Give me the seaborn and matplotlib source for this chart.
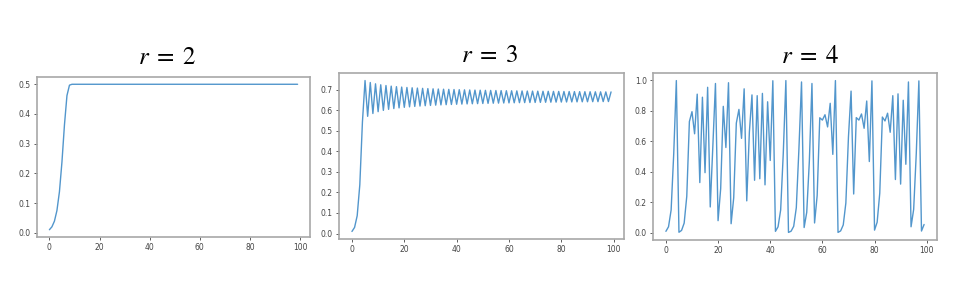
import numpy as np
import pandas as pd
import matplotlib
matplotlib.use("Agg")
import matplotlib.pyplot as plt
import seaborn as sns

# ---- data ----
steps = list(range(100))

r2_values = [0.01, 0.0198, 0.0388, 0.0746, 0.138, 0.238, 0.363, 0.462, 0.497, 0.5] + [0.5] * 90

r3_values = [
    0.01, 0.0297, 0.0865, 0.2369, 0.5424, 0.7446, 0.5705, 0.7351, 0.5842, 0.7287,
    0.5931, 0.7240, 0.5994, 0.7203, 0.6044, 0.7174, 0.6082, 0.7149, 0.6115, 0.7128,
    0.6142, 0.7109, 0.6165, 0.7093, 0.6186, 0.7079, 0.6204, 0.7066, 0.6220, 0.7054,
    0.6235, 0.7043, 0.6248, 0.7033, 0.6260, 0.7024, 0.6271, 0.7016, 0.6281, 0.7008,
    0.6291, 0.7001, 0.6299, 0.6994, 0.6308, 0.6987, 0.6315, 0.6981, 0.6322, 0.6976,
    0.6329, 0.6970, 0.6336, 0.6965, 0.6342, 0.6960, 0.6347, 0.6956, 0.6353, 0.6951,
    0.6358, 0.6947, 0.6363, 0.6943, 0.6368, 0.6939, 0.6372, 0.6935, 0.6376, 0.6932,
    0.6380, 0.6929, 0.6384, 0.6925, 0.6388, 0.6922, 0.6392, 0.6919, 0.6395, 0.6916,
    0.6399, 0.6913, 0.6402, 0.6911, 0.6405, 0.6908, 0.6408, 0.6905, 0.6411, 0.6903,
    0.6414, 0.6901, 0.6417, 0.6898, 0.6419, 0.6896, 0.6422, 0.6894, 0.6424, 0.6892,
]

r4_values = [
    0.01, 0.04, 0.15, 0.52, 0.999, 0.004, 0.016, 0.064, 0.24, 0.73,
    0.795, 0.65, 0.91, 0.33, 0.89, 0.395, 0.955, 0.17, 0.57, 0.98,
    0.08, 0.29, 0.83, 0.56, 0.985, 0.06, 0.23, 0.72, 0.81, 0.62,
    0.945, 0.21, 0.66, 0.905, 0.345, 0.90, 0.355, 0.915, 0.315, 0.86,
    0.475, 0.998, 0.01, 0.04, 0.15, 0.52, 0.999, 0.003, 0.011, 0.043,
    0.165, 0.55, 0.99, 0.035, 0.135, 0.47, 0.98, 0.065, 0.245, 0.755,
    0.74, 0.775, 0.695, 0.85, 0.515, 0.999, 0.003, 0.013, 0.052, 0.196,
    0.63, 0.93, 0.255, 0.756, 0.74, 0.78, 0.686, 0.865, 0.468, 0.997,
    0.018, 0.07, 0.26, 0.76, 0.734, 0.785, 0.66, 0.90, 0.35, 0.912,
    0.32, 0.87, 0.45, 0.99, 0.04, 0.154, 0.52, 0.997, 0.012, 0.055,
]

titles = [r"$r\;=\;2$", r"$r\;=\;3$", r"$r\;=\;4$"]
series = [r2_values, r3_values, r4_values]
x_ticks = [0, 20, 40, 60, 80, 100]
y_ticks = [
    [0.0, 0.1, 0.2, 0.3, 0.4, 0.5],
    [0.0, 0.1, 0.2, 0.3, 0.4, 0.5, 0.6, 0.7],
    [0.0, 0.2, 0.4, 0.6, 0.8, 1.0],
]

# ---- styling / layout ----
sns.set_style("white")
plt.rcParams["mathtext.fontset"] = "stix"

fig = plt.figure(figsize=(9.6, 2.85), dpi=100)
W, H = 960, 285
boxes = [  # left, top, width, height in px
    (37, 77, 273, 160),
    (339, 73, 285, 166),
    (653, 73, 284, 167),
]
title_pos = [(167, 57), (489, 55), (810, 56)]
line_color = "#5296cc"

for i, (vals, box) in enumerate(zip(series, boxes)):
    l, t, w, h = box
    ax = fig.add_axes([l / W, (H - t - h) / H, w / W, h / H])
    df = pd.DataFrame({"step": steps, "value": vals})
    sns.lineplot(data=df, x="step", y="value", ax=ax, color=line_color, linewidth=1.0)
    ax.set_xlabel("")
    ax.set_ylabel("")
    ax.set_xticks(x_ticks)
    ax.set_yticks(y_ticks[i])
    ax.set_yticklabels([f"{v:.1f}" for v in y_ticks[i]])
    ax.set_xlim(-4.95, 103.95)
    ymax = max(vals)
    ymin = min(vals)
    pad = (ymax - ymin) * 0.05
    ax.set_ylim(ymin - pad, ymax + pad)
    ax.tick_params(axis="both", labelsize=5.5, colors="#444444", length=2.5,
                   width=0.6, pad=2, bottom=True, left=True)
    for s in ax.spines.values():
        s.set_color("#a8a8a8")
        s.set_linewidth(1.2)
    tx, ty = title_pos[i]
    fig.text(tx / W, 1 - ty / H, titles[i], fontsize=18, ha="center", va="center",
             color="black")

fig.savefig("out.png", dpi=100, facecolor="white")
